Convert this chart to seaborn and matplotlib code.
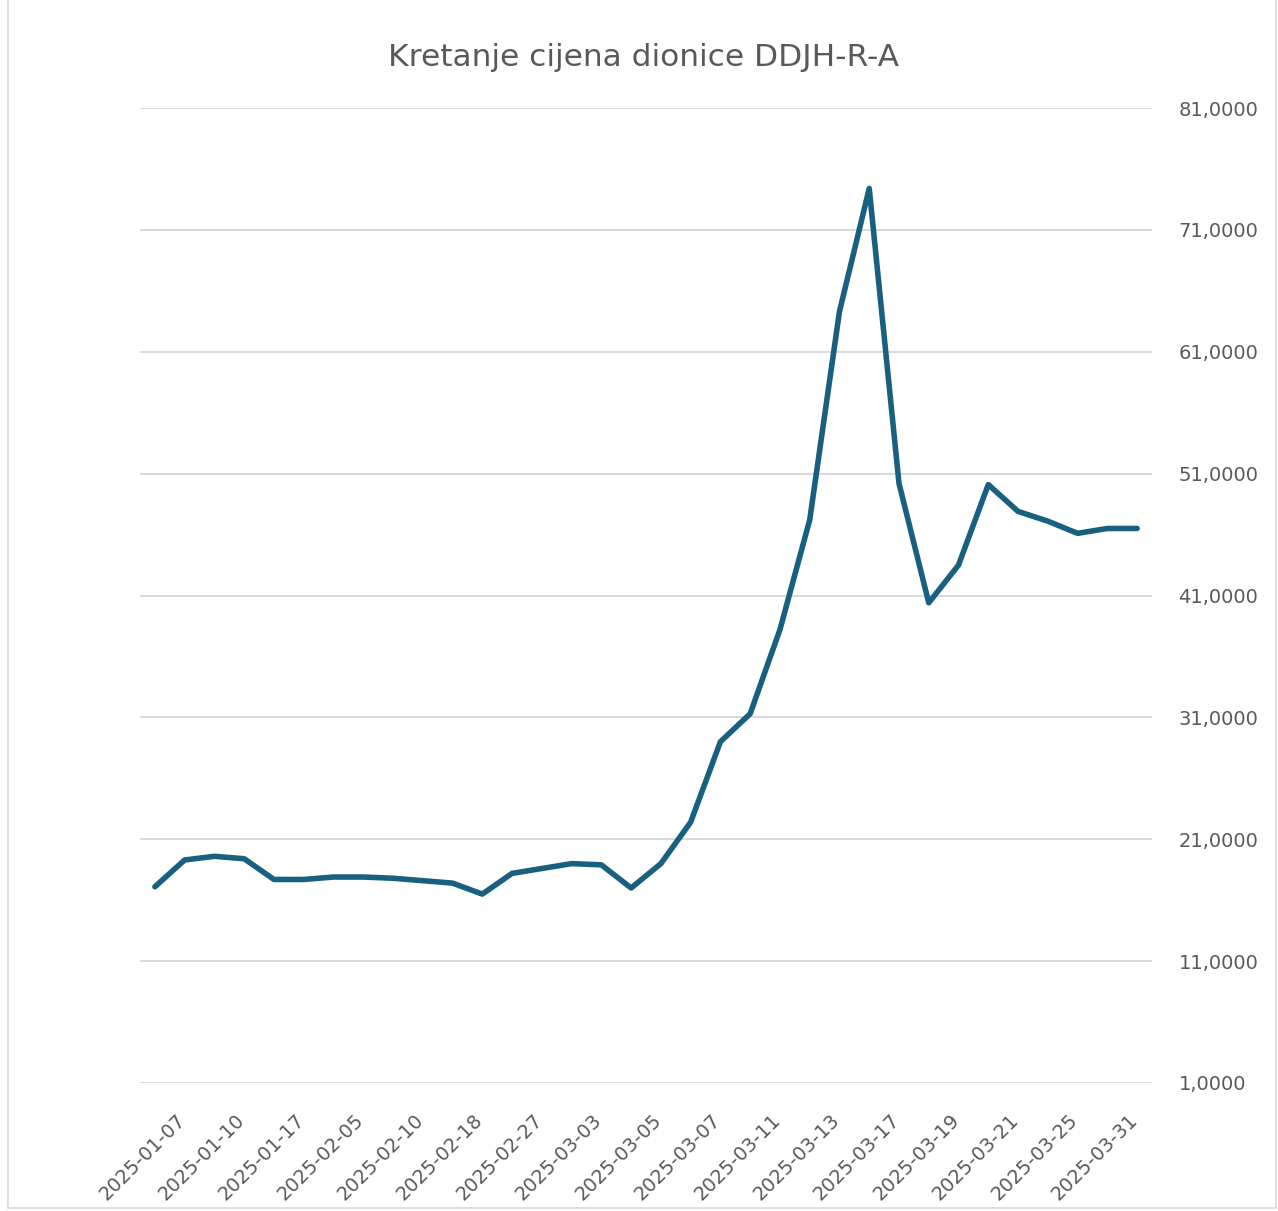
import numpy as np
import pandas as pd
import matplotlib.pyplot as plt
import seaborn as sns
from matplotlib.lines import Line2D
from matplotlib.transforms import ScaledTranslation

# Trading days (only every other one is labelled on the axis)
dates = [
    "2025-01-03", "2025-01-07", "2025-01-09", "2025-01-10", "2025-01-14",
    "2025-01-17", "2025-01-28", "2025-02-05", "2025-02-07", "2025-02-10",
    "2025-02-13", "2025-02-18", "2025-02-21", "2025-02-27", "2025-02-28",
    "2025-03-03", "2025-03-04", "2025-03-05", "2025-03-06", "2025-03-07",
    "2025-03-10", "2025-03-11", "2025-03-12", "2025-03-13", "2025-03-14",
    "2025-03-17", "2025-03-18", "2025-03-19", "2025-03-20", "2025-03-21",
    "2025-03-24", "2025-03-25", "2025-03-27", "2025-03-31",
]
prices = [
    17.1, 19.3, 19.6, 19.4, 17.7,
    17.7, 17.9, 17.9, 17.8, 17.6,
    17.4, 16.5, 18.2, 18.6, 19.0,
    18.9, 17.0, 19.0, 22.4, 29.0,
    31.3, 38.2, 47.2, 64.3, 74.4,
    50.2, 40.4, 43.5, 50.1, 47.9,
    47.1, 46.1, 46.5, 46.5,
]
y_ticks = [1, 11, 21, 31, 41, 51, 61, 71, 81]

df = pd.DataFrame({"pos": np.arange(len(dates)), "date": dates, "price": prices})

line_color = "#17607f"
text_color = "#595959"
grid_color = "#d9d9d9"

sns.set_style("white")
plt.rcParams['font.family'] = ['DejaVu Sans']

fig = plt.figure(figsize=(12.78, 12.11), dpi=100)
ax = fig.add_axes([140 / 1278, 1 - 1083 / 1211, 1012 / 1278, 975 / 1211])

sns.lineplot(data=df, x="pos", y="price", ax=ax, color=line_color,
             linewidth=4.0, solid_joinstyle="round", solid_capstyle="round",
             zorder=3)

ax.set_xlim(-0.5, len(dates) - 0.5)
ax.set_ylim(1, 81)

# gridlines
ax.set_yticks(y_ticks)
ax.yaxis.grid(True, color=grid_color, linewidth=1.4)
ax.xaxis.grid(False)
ax.set_axisbelow(True)

ax.yaxis.tick_right()
ax.set_yticklabels([f"{v},0000" for v in y_ticks])
ax.tick_params(axis="y", length=0, pad=19, labelsize=14, labelcolor=text_color)

label_pos = df["pos"][1::2]
ax.set_xticks(label_pos)
ax.set_xticklabels(df["date"][1::2], rotation=45, ha="right",
                   rotation_mode="anchor")
ax.tick_params(axis="x", length=0, pad=20, labelsize=14, labelcolor=text_color)
shift = ScaledTranslation(-9 / 100, 0, fig.dpi_scale_trans)
for lbl in ax.get_xticklabels():
    lbl.set_transform(lbl.get_transform() + shift)

ax.set_xlabel("")
ax.set_ylabel("")
for s in ax.spines.values():
    s.set_visible(False)

fig.text(643 / 1278, 1 - 66 / 1211, "Kretanje cijena dionice DDJH-R-A",
         ha="center", va="baseline", fontsize=22.5, color=text_color)

# chart area border
bc = "#d9d9d9"
fig.add_artist(Line2D([8 / 1278, 8 / 1278], [3 / 1211, 1], color=bc, lw=1.2))
fig.add_artist(Line2D([1276 / 1278, 1276 / 1278], [3 / 1211, 1], color=bc, lw=1.2))
fig.add_artist(Line2D([8 / 1278, 1276 / 1278], [3 / 1211, 3 / 1211], color=bc, lw=1.2))

plt.savefig("out.png", dpi=100)
plt.close()
